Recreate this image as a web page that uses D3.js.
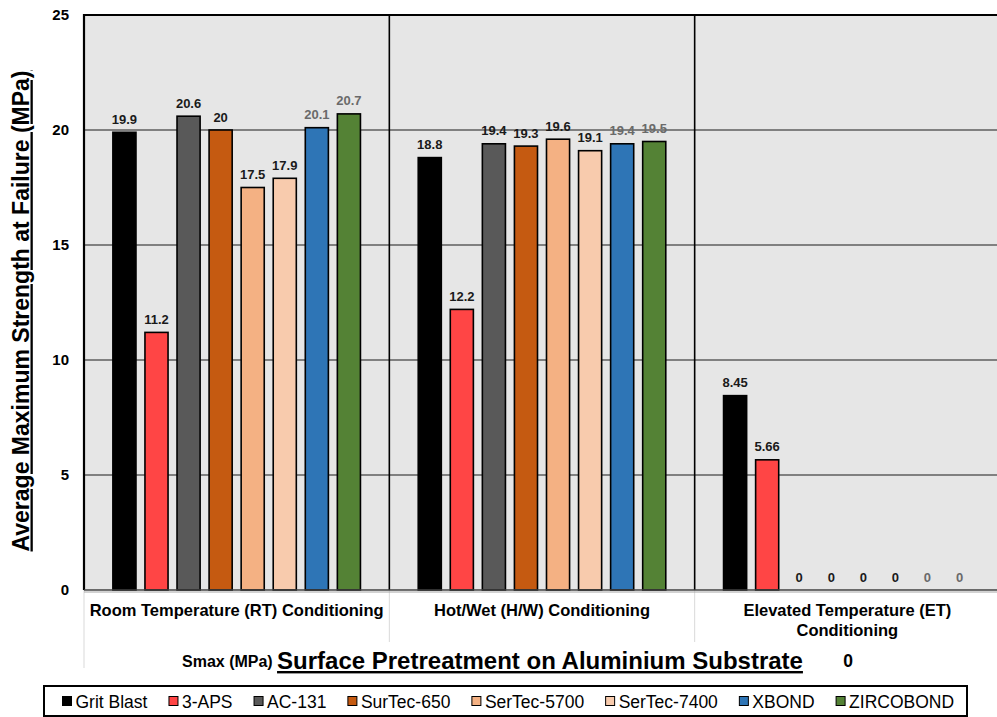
<!DOCTYPE html>
<html><head><meta charset="utf-8">
<script src="https://cdn.jsdelivr.net/npm/d3@7"></script>
<style>
html,body{margin:0;padding:0;background:#fff;overflow:hidden}
text{font-family:"Liberation Sans",Arial,sans-serif;text-decoration-skip-ink:none}
</style></head>
<body>
<svg id="chart" width="997" height="717"></svg>
<script>
const categories = ["Room Temperature (RT) Conditioning", "Hot/Wet (H/W) Conditioning", "Elevated Temperature (ET) Conditioning"];
const seriesNames = ["Grit Blast", "3-APS", "AC-131", "SurTec-650", "SerTec-5700", "SerTec-7400", "XBOND", "ZIRCOBOND"];
const gritBlast  = [19.9, 18.8, 8.45];
const aps3       = [11.2, 12.2, 5.66];
const ac131      = [20.6, 19.4, 0];
const surTec650  = [20, 19.3, 0];
const serTec5700 = [17.5, 19.6, 0];
const serTec7400 = [17.9, 19.1, 0];
const xbond      = [20.1, 19.4, 0];
const zircobond  = [20.7, 19.5, 0];
const yTicks = [0, 5, 10, 15, 20, 25];
const catLabelLines = [["Room Temperature (RT) Conditioning"], ["Hot/Wet (H/W) Conditioning"], ["Elevated Temperature (ET)", "Conditioning"]];

const seriesValues = [gritBlast, aps3, ac131, surTec650, serTec5700, serTec7400, xbond, zircobond];
const colors = ["#000000", "#FF4545", "#595959", "#C55A11", "#F4B183", "#F8CBAD", "#2E75B6", "#548235"];
const labelColors = ["#1a1a1a", "#1a1a1a", "#1a1a1a", "#1a1a1a", "#1a1a1a", "#1a1a1a", "#6a6a6a", "#6a6a6a"];

const svg = d3.select("#chart");
const L = 84, R = 1000, T = 15, B = 590;

const x0 = d3.scaleBand().domain(categories).range([L, R]).padding(0);
const gw = x0.bandwidth();
const x1 = d3.scaleBand().domain(seriesNames).range([24.4, gw - 24.4]).paddingInner(0.28).paddingOuter(0.14);
const y = d3.scaleLinear().domain([0, 25]).range([B, T]);

// background
svg.append("rect").attr("x", L).attr("y", T).attr("width", R - L).attr("height", B - T).attr("fill", "#e6e6e6");

// grid
svg.append("g").selectAll("line").data(yTicks.filter(d => d > 0 && d < 25)).join("line")
  .attr("x1", L).attr("x2", R).attr("y1", d => y(d)).attr("y2", d => y(d))
  .attr("stroke", "#1a1a1a").attr("stroke-width", 1.2);

// below-axis category separators
svg.append("line").attr("x1", L).attr("x2", L).attr("y1", B).attr("y2", 668).attr("stroke", "#d9d9d9").attr("stroke-width", 1);
svg.append("g").selectAll("line").data(categories.slice(1)).join("line")
  .attr("x1", d => x0(d)).attr("x2", d => x0(d)).attr("y1", B).attr("y2", 642)
  .attr("stroke", "#d9d9d9").attr("stroke-width", 1);

// bars
const groups = svg.append("g").selectAll("g").data(categories).join("g")
  .attr("transform", d => `translate(${x0(d)},0)`);

groups.each(function(cat, ci) {
  const g = d3.select(this);
  seriesNames.forEach((s, si) => {
    const v = seriesValues[si][ci];
    if (v > 0) {
      g.append("rect")
        .attr("x", x1(s)).attr("y", y(v))
        .attr("width", x1.bandwidth()).attr("height", y(0) - y(v))
        .attr("fill", colors[si]).attr("stroke", "#000").attr("stroke-width", 1.6);
    }
  });
});

// vertical separators
svg.append("g").selectAll("line").data(categories.slice(1)).join("line")
  .attr("x1", d => x0(d)).attr("x2", d => x0(d)).attr("y1", T).attr("y2", B)
  .attr("stroke", "#000").attr("stroke-width", 1.6);

// labels
groups.each(function(cat, ci) {
  const g = d3.select(this);
  seriesNames.forEach((s, si) => {
    const v = seriesValues[si][ci];
    g.append("text")
      .attr("x", x1(s) + x1.bandwidth() / 2).attr("y", y(v) - 8.5)
      .attr("text-anchor", "middle").attr("font-size", 13).attr("font-weight", "bold")
      .attr("fill", labelColors[si]).text(String(v));
  });
});

// top and left borders
svg.append("line").attr("x1", L).attr("x2", R).attr("y1", T).attr("y2", T).attr("stroke", "#000").attr("stroke-width", 2.2);
svg.append("line").attr("x1", L).attr("x2", L).attr("y1", T - 1).attr("y2", B).attr("stroke", "#000").attr("stroke-width", 2.2);
// x axis line
svg.append("line").attr("x1", L).attr("x2", R).attr("y1", B + 2).attr("y2", B + 2).attr("stroke", "#a6a6a6").attr("stroke-width", 1.2);
svg.append("line").attr("x1", L).attr("x2", R).attr("y1", B).attr("y2", B).attr("stroke", "#404040").attr("stroke-width", 1.6);

// y tick labels
svg.append("g").selectAll("text").data(yTicks).join("text")
  .attr("x", 69).attr("y", d => y(d)).attr("dy", "0.36em")
  .attr("text-anchor", "end").attr("font-size", 15).attr("font-weight", "bold").attr("fill", "#000")
  .text(d => d);

// category labels
svg.append("g").selectAll("text").data(categories).join("text")
  .attr("x", d => x0(d) + gw / 2).attr("y", 616)
  .attr("text-anchor", "middle").attr("font-size", 16.5).attr("font-weight", "bold").attr("fill", "#000")
  .each(function(d, i) {
    d3.select(this).selectAll("tspan").data(catLabelLines[i]).join("tspan")
      .attr("x", x0(d) + gw / 2).attr("dy", (t, j) => j === 0 ? 0 : 20).text(t => t);
  });

// second-level axis labels
svg.append("text").attr("x", 182).attr("y", 667)
  .attr("font-size", 16).attr("font-weight", "bold").attr("fill", "#000").text("Smax (MPa)");
svg.append("text").attr("x", 848).attr("y", 667).attr("text-anchor", "middle").attr("font-size", 17.5).attr("font-weight", "bold").attr("fill", "#000").text("0");

// x title
svg.append("text").attr("x", 540).attr("y", 669).attr("text-anchor", "middle")
  .attr("font-size", 24).attr("font-weight", "bold").attr("text-decoration", "underline").attr("fill", "#000")
  .text("Surface Pretreatment on Aluminium Substrate");

// y title
svg.append("text").attr("transform", "translate(28.5,311) rotate(-90)").attr("text-anchor", "middle")
  .attr("font-size", 23).attr("font-weight", "bold").attr("text-decoration", "underline").attr("fill", "#000")
  .text("Average Maximum Strength at Failure (MPa)");

// legend
svg.append("rect").attr("x", 44).attr("y", 686).attr("width", 923).attr("height", 30)
  .attr("fill", "#fff").attr("stroke", "#000").attr("stroke-width", 2);
const lg = svg.append("g");
let lx = 62;
seriesNames.forEach((s, i) => {
  lg.append("rect").attr("x", lx + 0.5).attr("y", 696.5).attr("width", 9).attr("height", 9)
    .attr("fill", colors[i]).attr("stroke", "#000").attr("stroke-width", 1);
  const t = lg.append("text").attr("x", lx + 13.5).attr("y", 707.5).attr("font-size", 17.5).attr("fill", "#000").text(s);
  lx += 13.5 + t.node().getComputedTextLength() + 21;
});
</script>
</body></html>
